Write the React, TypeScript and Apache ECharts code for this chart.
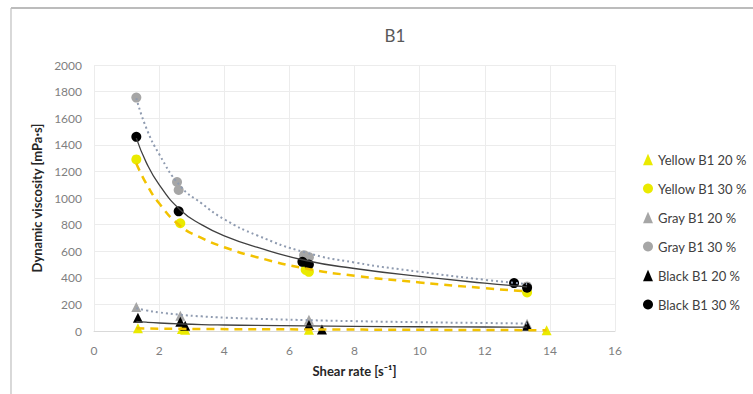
import React, { useEffect, useRef } from "react";
import * as echarts from "echarts";

const xTicks = [0, 2, 4, 6, 8, 10, 12, 14, 16];
const yTicks = [0, 200, 400, 600, 800, 1000, 1200, 1400, 1600, 1800, 2000];

const yellow20: number[][] = [[1.35, 20], [2.7, 15], [2.8, 10], [6.6, 10], [13.9, 5]];
const yellow30: number[][] = [[1.3, 1290], [2.65, 810], [6.5, 460], [6.6, 445], [13.3, 290]];
const gray20: number[][] = [[1.3, 180], [2.65, 115], [6.6, 85], [13.3, 55]];
const gray30: number[][] = [[1.3, 1755], [2.55, 1120], [2.6, 1060], [6.45, 570], [6.6, 555], [13.3, 335]];
const black20: number[][] = [[1.35, 100], [2.65, 70], [2.8, 40], [6.6, 45], [7.0, 12], [13.3, 40]];
const black30: number[][] = [[1.3, 1460], [2.6, 900], [6.4, 520], [6.6, 500], [12.9, 360], [13.3, 325]];

// trend lines
const trendX = [1.3, 1.6, 2, 2.65, 3.3, 4, 5, 6.5, 8, 10, 12, 13.3];
const trendYellow30 = [1260, 1110, 960, 790, 700, 630, 555, 470, 415, 365, 322, 298];
const trendGray30 = [1750, 1530, 1330, 1090, 960, 840, 720, 590, 515, 445, 385, 352];
const trendBlack30 = [1450, 1270, 1100, 910, 800, 715, 630, 530, 470, 410, 360, 332];
const trendGray20 = [172, 155, 140, 122, 110, 101, 92, 82, 74, 66, 60, 56];
const trendBlack20 = [72, 66, 60, 53, 48, 45, 42, 38, 35, 32, 30, 29];
const trendYellow20x = [1.3, 2.65, 6.5, 10, 13.9];
const trendYellow20 = [20, 16, 12, 9, 6];

const pairs = (xs: number[], ys: number[]) => xs.map((x, i) => [x, ys[i]]);

export default function App() {
  const ref = useRef<HTMLDivElement>(null);
  useEffect(() => {
    if (!ref.current) return;
    const chart = echarts.init(ref.current, null, { renderer: "svg" });
    const font = "Lato, 'Noto Sans', sans-serif";
    const trend = (data: number[][], color: string, type: any, width: number) => ({
      type: "line",
      data,
      smooth: 0.5,
      showSymbol: false,
      silent: true,
      z: 3,
      lineStyle: { color, type, width },
    });
    const scatter = (name: string, data: number[][], color: string, symbol: string, size: number) => ({
      type: "scatter",
      name,
      data,
      symbol,
      symbolSize: size,
      z: 2,
      itemStyle: { color, opacity: 1 },
    });
    chart.setOption({
      animation: false,
      backgroundColor: "#ffffff",
      textStyle: { fontFamily: font },
      title: {
        text: "B1",
        left: 390,
        top: 22,
        textAlign: "center",
        textStyle: { fontSize: 17, fontWeight: "normal", color: "#595959", fontFamily: font },
      },
      grid: { left: 94, right: 138, top: 65, bottom: 63 },
      legend: {
        orient: "vertical",
        left: 638,
        top: 148,
        itemGap: 16,
        itemWidth: 10,
        itemHeight: 11.5,
        textStyle: { fontSize: 13, color: "#404040", fontFamily: font },
        data: [
          { name: "Yellow B1 20 %", icon: "triangle" },
          { name: "Yellow B1 30 %", icon: "circle" },
          { name: "Gray B1 20 %", icon: "triangle" },
          { name: "Gray B1 30 %", icon: "circle" },
          { name: "Black B1 20 %", icon: "triangle" },
          { name: "Black B1 30 %", icon: "circle" },
        ],
      },
      xAxis: {
        type: "value",
        min: xTicks[0],
        max: xTicks[xTicks.length - 1],
        interval: 2,
        name: "Shear rate [s⁻¹]",
        nameLocation: "middle",
        nameGap: 33,
        nameTextStyle: { fontSize: 13, fontWeight: "bold", color: "#262626", fontFamily: font },
        axisLine: { show: true, lineStyle: { color: "#d9d9d9" } },
        axisTick: { show: false },
        axisLabel: { fontSize: 12, color: "#7f7f7f", margin: 13 },
        splitLine: { show: true, lineStyle: { color: "#ececec" } },
      },
      yAxis: {
        type: "value",
        min: yTicks[0],
        max: yTicks[yTicks.length - 1],
        interval: 200,
        name: "Dynamic viscosity [mPa·s]",
        nameLocation: "middle",
        nameGap: 50,
        nameTextStyle: { fontSize: 13, fontWeight: "bold", color: "#262626", fontFamily: font },
        axisLine: { show: false },
        axisTick: { show: false },
        axisLabel: { fontSize: 12, color: "#7f7f7f", margin: 12, formatter: (v: number) => String(v) },
        splitLine: { show: true, lineStyle: { color: "#ececec" } },
      },
      graphic: [
        { type: "line", shape: { x1: 11, y1: 8, x2: 753, y2: 8 }, style: { stroke: "#a6a6a6", lineWidth: 1.5 } },
        { type: "line", shape: { x1: 11, y1: 8, x2: 11, y2: 394 }, style: { stroke: "#bfbfbf", lineWidth: 1.2 } },
      ],
      series: [
        scatter("Yellow B1 20 %", yellow20, "#eaea00", "triangle", 10),
        scatter("Yellow B1 30 %", yellow30, "#eaea00", "circle", 10),
        scatter("Gray B1 20 %", gray20, "#a6a6a6", "triangle", 10),
        scatter("Gray B1 30 %", gray30, "#a6a6a6", "circle", 10),
        scatter("Black B1 20 %", black20, "#000000", "triangle", 10),
        scatter("Black B1 30 %", black30, "#000000", "circle", 10),
        trend(pairs(trendX, trendGray30), "#8f9bb0", [2, 3], 2),
        trend(pairs(trendX, trendBlack30), "#404040", "solid", 1.3),
        trend(pairs(trendX, trendYellow30), "#f2c200", [8, 6], 2.5),
        trend(pairs(trendX, trendGray20), "#8f9bb0", [2, 3], 2),
        trend(pairs(trendX, trendBlack20), "#404040", "solid", 1.3),
        trend(pairs(trendYellow20x, trendYellow20), "#f2c200", [8, 6], 2.5),
      ],
    });
    return () => chart.dispose();
  }, []);
  return (
    <div
      ref={ref}
      style={{ position: "fixed", left: 0, top: 0, width: 753, height: 394, background: "#fff" }}
    />
  );
}
